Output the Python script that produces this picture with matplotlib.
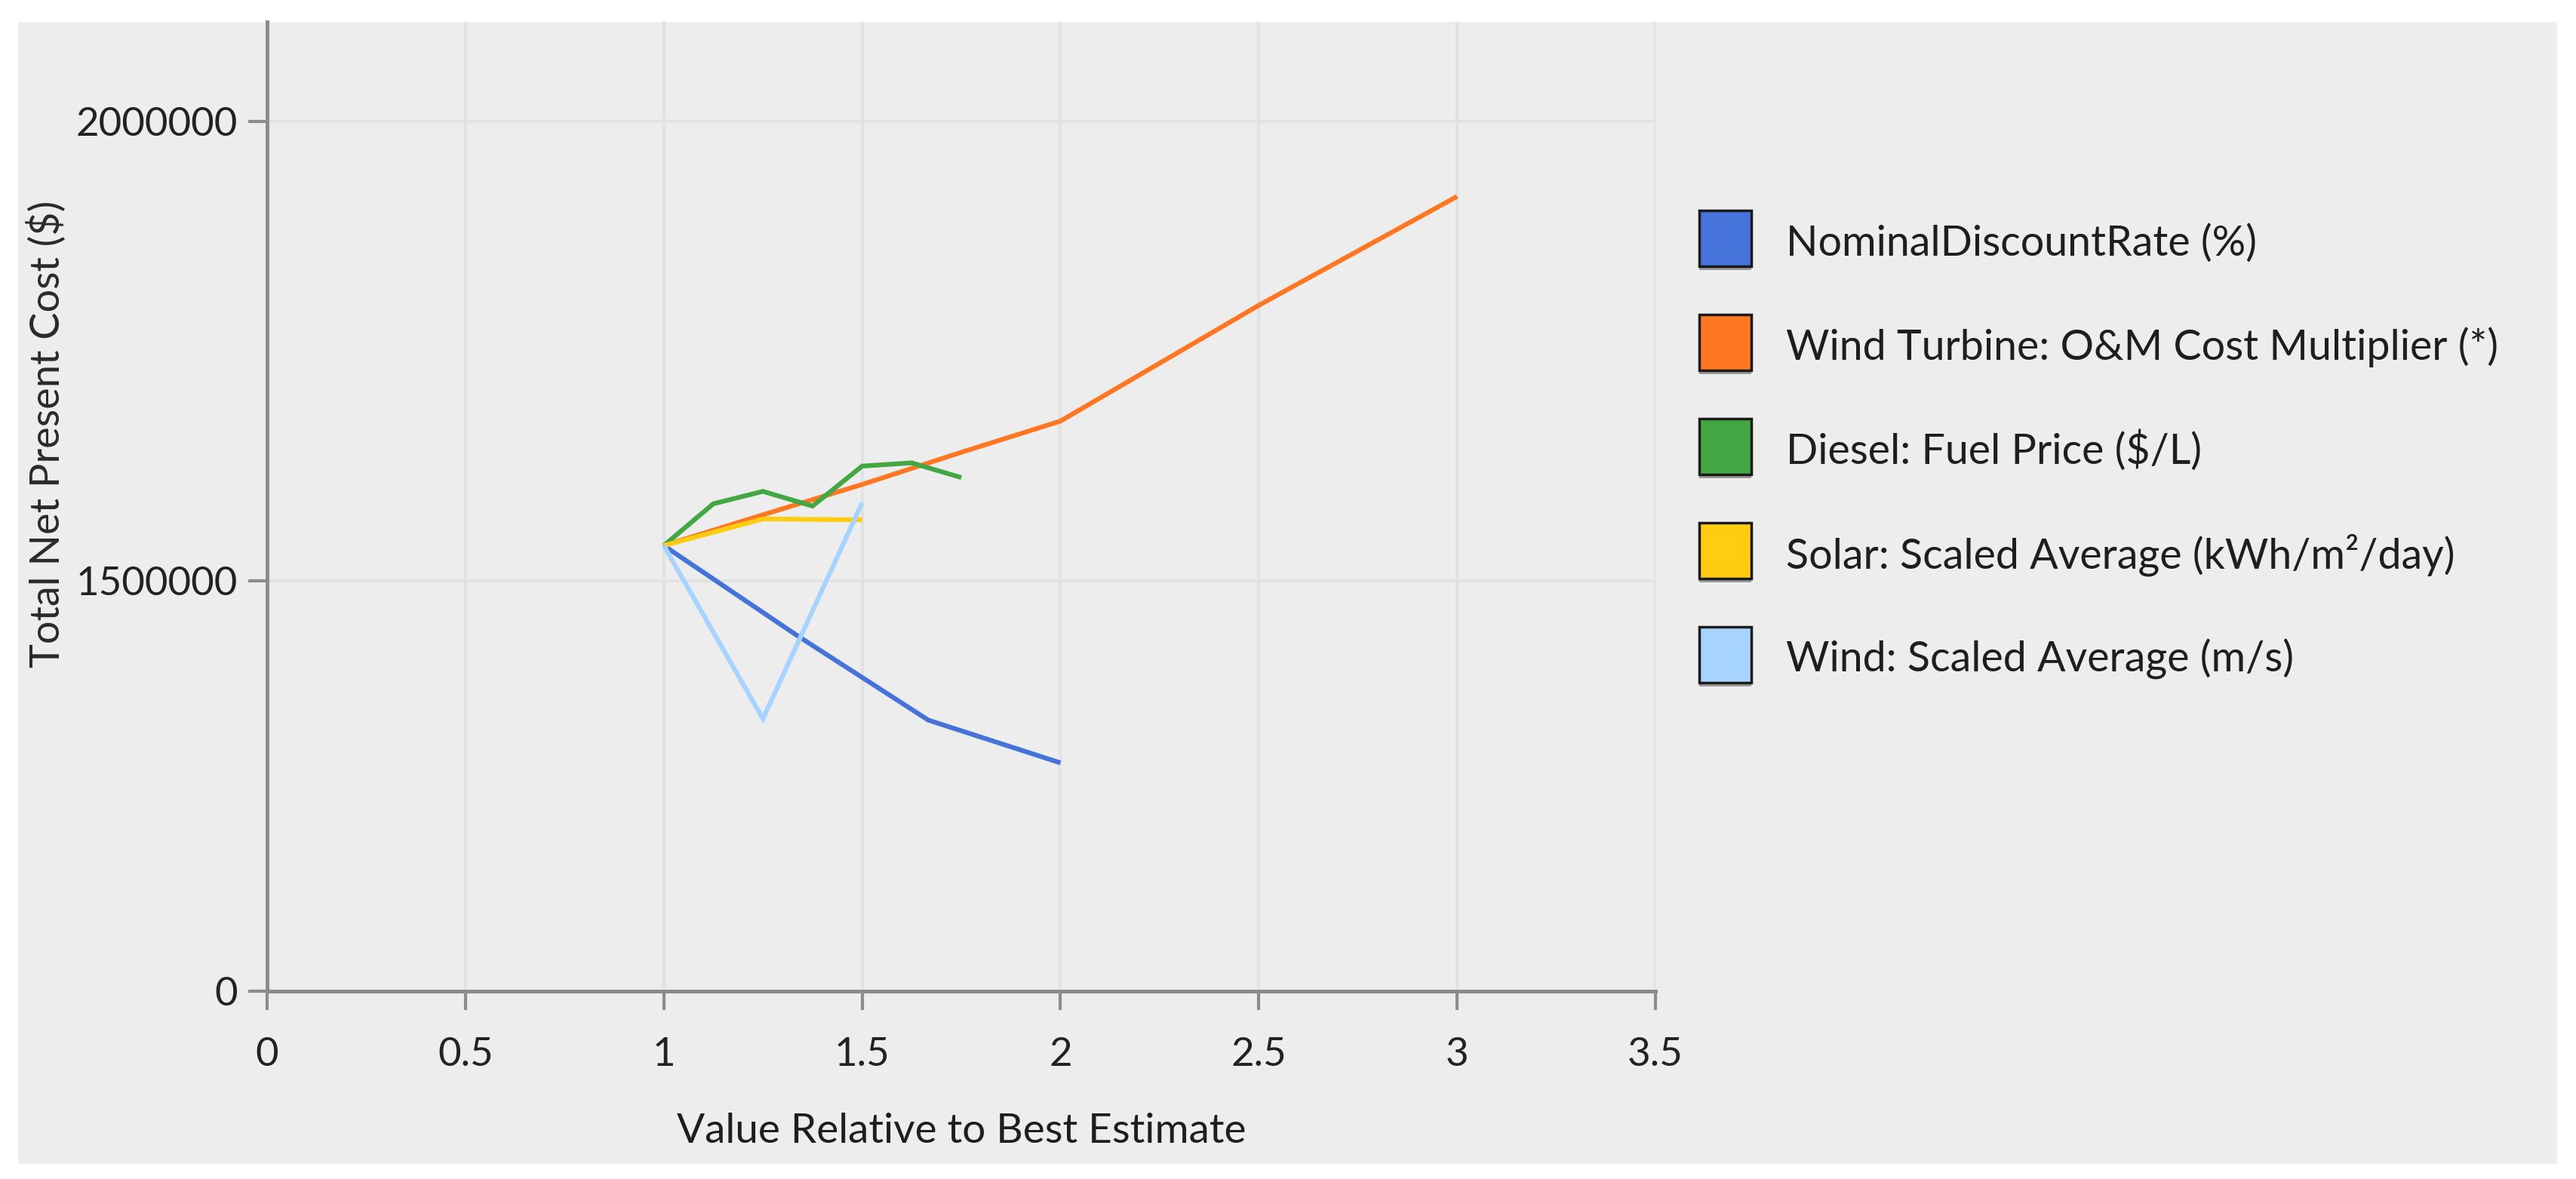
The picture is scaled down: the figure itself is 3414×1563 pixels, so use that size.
import matplotlib.pyplot as plt
from matplotlib.patches import Rectangle

# sensitivity of total NPC to each input (value relative to best estimate)
discount_x = [1.0, 1.333, 1.667, 2.0]
discount_y = [1538000, 1441000, 1348000, 1301500]

om_x = [1.0, 1.25, 1.5, 1.75, 2.0, 2.5, 3.0]
om_y = [1538000, 1571500, 1604500, 1639500, 1673500, 1799500, 1918000]

fuel_x = [1.0, 1.125, 1.25, 1.375, 1.5, 1.625, 1.75]
fuel_y = [1538000, 1583500, 1597000, 1581000, 1624500, 1628000, 1612000]

solar_x = [1.0, 1.25, 1.5]
solar_y = [1538000, 1567000, 1566000]

wind_x = [1.0, 1.25, 1.5]
wind_y = [1538000, 1349500, 1584500]

series_names = ['NominalDiscountRate (%)',
                'Wind Turbine: O&M Cost Multiplier (*)',
                'Diesel: Fuel Price ($/L)',
                'Solar: Scaled Average (kWh/m²/day)',
                'Wind: Scaled Average (m/s)']
series_colors = ['#4673DA', '#FF7722', '#43A843', '#FFCC11', '#A6D4FF']

x_ticks = [0, 0.5, 1, 1.5, 2, 2.5, 3, 3.5]
x_tick_labels = ['0', '0.5', '1', '1.5', '2', '2.5', '3', '3.5']
# the original chart starts its y axis well above zero but labels the floor "0"
y_floor = 1053000
y_top = 2108000
y_ticks = [y_floor, 1500000, 2000000]
y_tick_labels = ['0', '1500000', '2000000']

W, H = 3414, 1563
plt.rcParams['font.family'] = ['Lato', 'DejaVu Sans']

fig = plt.figure(figsize=(W / 100, H / 100), dpi=100, facecolor='white')
fig.patches.append(Rectangle((24 / W, 1 - 1542 / H), (3388 - 24) / W, (1542 - 29) / H,
                             transform=fig.transFigure, facecolor='#EDEDED',
                             edgecolor='#F2F2F2', linewidth=1, zorder=-5))

ax = fig.add_axes([354 / W, 1 - 1314 / H, 1840 / W, 1285 / H])
ax.set_zorder(1)
ax.patch.set_alpha(0)

series = [(discount_x, discount_y), (om_x, om_y), (fuel_x, fuel_y),
          (solar_x, solar_y), (wind_x, wind_y)]
for (xs, ys), name, color in zip(series, series_names, series_colors):
    ax.plot(xs, ys, color=color, linewidth=4.5, label=name,
            solid_joinstyle='miter', solid_capstyle='butt', zorder=3)

ax.set_xlim(0, 3.5)
ax.set_ylim(y_floor, y_top)
ax.set_xticks(x_ticks)
ax.set_xticklabels(x_tick_labels)
ax.set_yticks(y_ticks)
ax.set_yticklabels(y_tick_labels)

ax.set_axisbelow(True)
ax.grid(True, color='#E2E2E2', linewidth=3)
for s in ['top', 'right']:
    ax.spines[s].set_visible(False)
for s in ['left', 'bottom']:
    ax.spines[s].set_color('#8C8C8C')
    ax.spines[s].set_linewidth(3.6)

ax.tick_params(axis='both', direction='out', length=18, width=3, color='#8C8C8C',
               labelsize=38, labelcolor='#222222')
ax.tick_params(axis='x', pad=26)
ax.tick_params(axis='y', pad=10)

fig.text(1274 / W, 1 - 1515 / H, 'Value Relative to Best Estimate', ha='center',
         va='baseline', fontsize=39.5, color='#1E1E1E')
fig.text(61 / W, 1 - 575 / H, 'Total Net Present Cost ($)', ha='center', va='center',
         rotation=90, fontsize=39, color='#2A2A2A')

# legend drawn as boxes + text at the right
for i, (name, color) in enumerate(zip(series_names, series_colors)):
    top = 279 + i * 138
    fig.patches.append(Rectangle((2252 / W, 1 - (top + 79) / H), 69 / W, 5 / H,
                                 transform=fig.transFigure, facecolor='#999999',
                                 edgecolor='none', zorder=2))
    fig.patches.append(Rectangle((2252 / W, 1 - (top + 74) / H), 69 / W, 74 / H,
                                 transform=fig.transFigure, facecolor=color,
                                 edgecolor='#1A1A1A', linewidth=2.5, zorder=3))
    fig.text(2367 / W, 1 - (top + 60) / H, name, ha='left', va='baseline',
             fontsize=40, color='#1E1E1E')

fig.savefig('out.png', dpi=100, facecolor='white')
